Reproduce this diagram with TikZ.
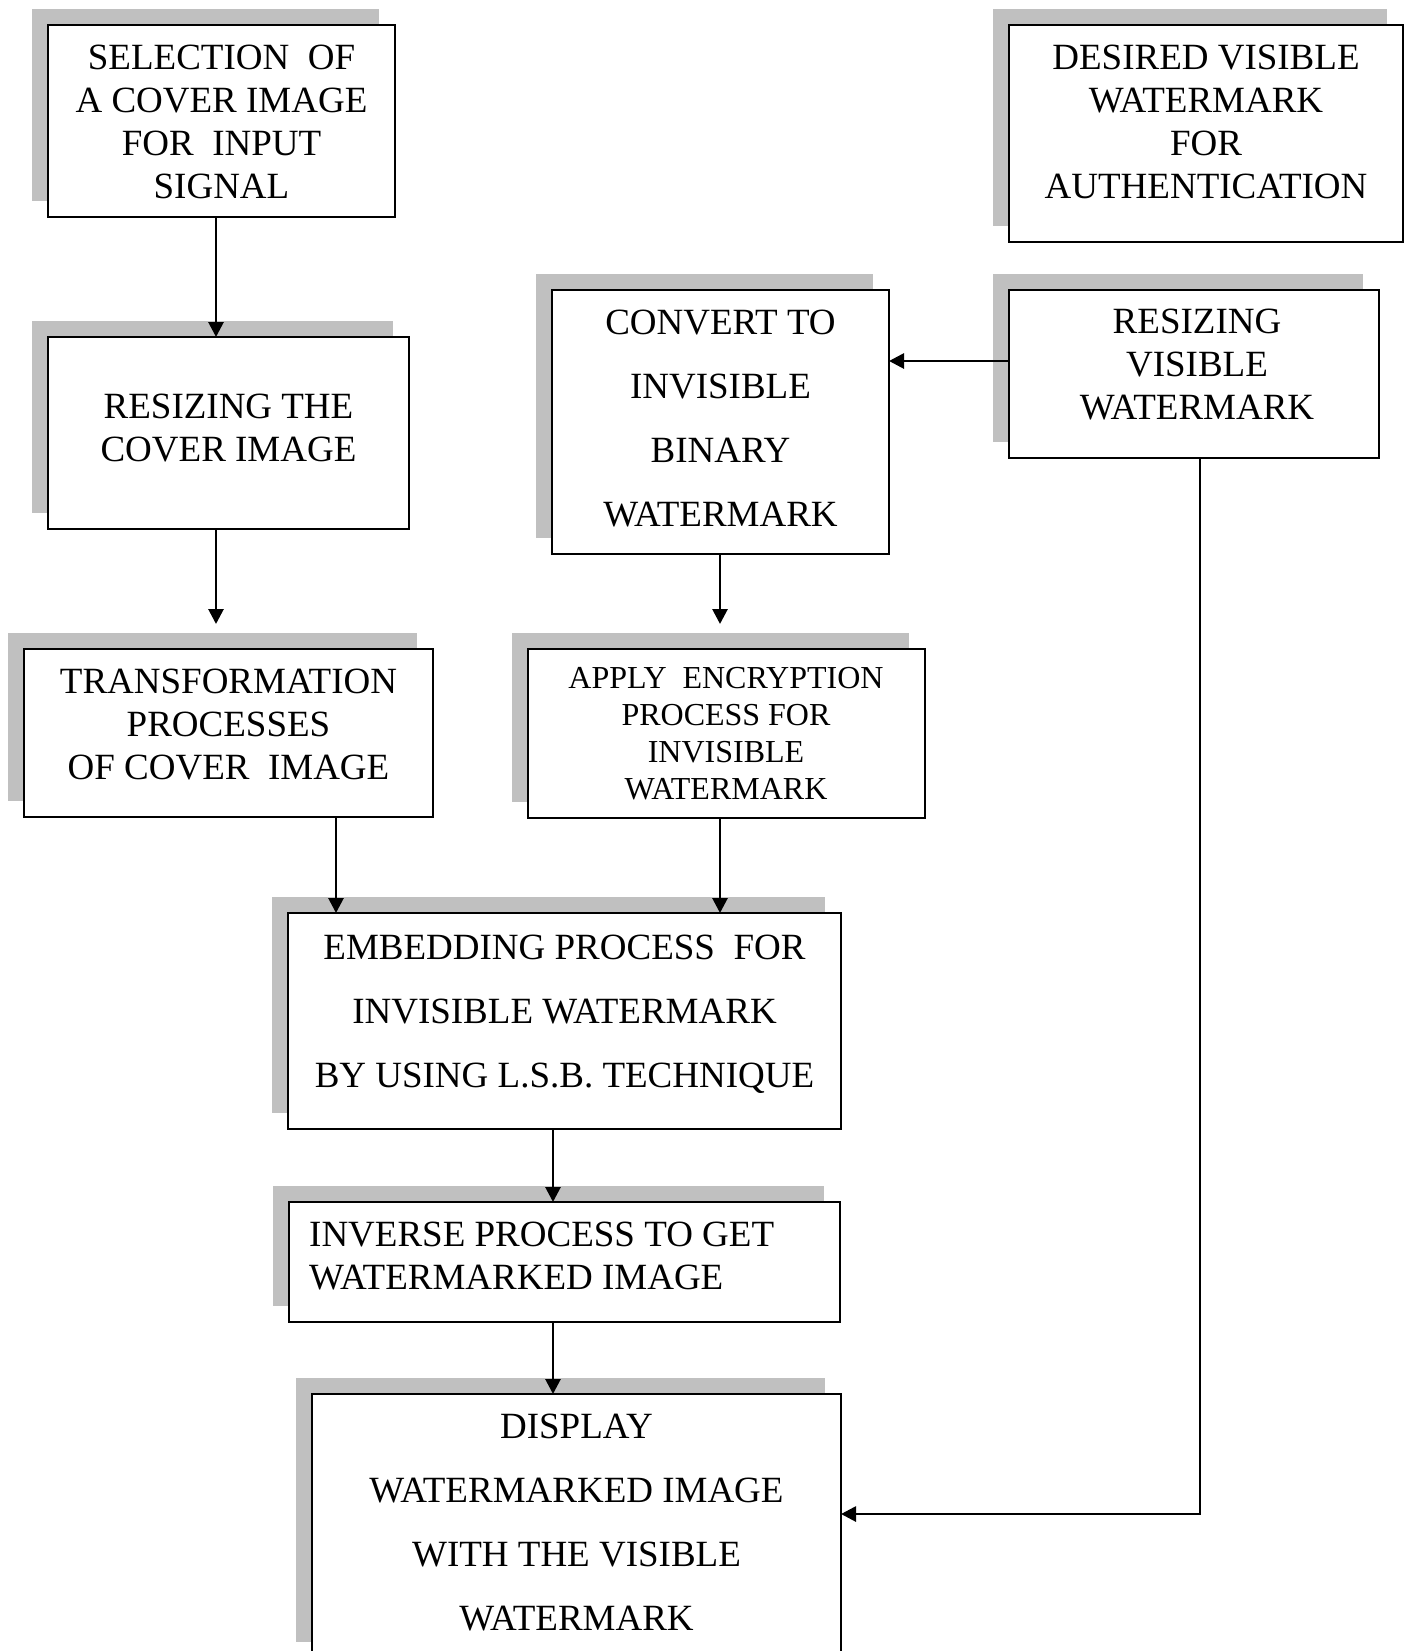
\documentclass[tikz,border=0pt]{standalone}
\usepackage{fontspec}
\setmainfont{Liberation Serif}
\usetikzlibrary{arrows.meta,shadows}
\definecolor{shadowgray}{RGB}{192,192,192}
\begin{document}
\begin{tikzpicture}[x=1pt,y=-1pt,
  box/.style={draw=black, line width=2.1pt, fill=white, inner sep=0pt, outer sep=0pt,
    general shadow={fill=shadowgray, shadow xshift=-16pt, shadow yshift=16pt}},
  arr/.style={line width=2.8pt, -{Triangle[length=15pt,width=15pt]}},
  txt/.style={font=\fontsize{37}{43}\selectfont, align=center, inner sep=0pt},
  txtwide/.style={font=\fontsize{37}{64}\selectfont, align=center, inner sep=0pt},
  txtsmall/.style={font=\fontsize{32}{37}\selectfont, align=center, inner sep=0pt}]
\useasboundingbox (0,0) rectangle (1413,1651);

% boxes
\node[box, minimum width=347pt, minimum height=192pt] (b1) at (221.5,121) {};
\node[box, minimum width=361pt, minimum height=192pt] (b2) at (228.5,433) {};
\node[box, minimum width=394pt, minimum height=217pt] (b3) at (1206,133.5) {};
\node[box, minimum width=337pt, minimum height=264pt] (b4) at (720.5,422) {};
\node[box, minimum width=370pt, minimum height=168pt] (b5) at (1194,374) {};
\node[box, minimum width=409pt, minimum height=168pt] (b6) at (228.5,733) {};
\node[box, minimum width=397pt, minimum height=169pt] (b7) at (726.5,733.5) {};
\node[box, minimum width=553pt, minimum height=216pt] (b8) at (564.5,1021) {};
\node[box, minimum width=551pt, minimum height=120pt] (b9) at (564.5,1262) {};
\node[box, minimum width=529pt, minimum height=264pt] (b10) at (576.5,1526) {};

% texts
\node[txt] (t1) at (221.5,122.25) {SELECTION\ \ OF\\A COVER IMAGE\\FOR\ \ INPUT\\SIGNAL};
\node[txt] (t2) at (228.5,428.5) {RESIZING THE\\COVER IMAGE};
\node[txt] (t3) at (1206,122) {DESIRED VISIBLE\\WATERMARK\\FOR\\AUTHENTICATION};
\node[txtwide] (t4) at (720.5,419) {CONVERT TO\\INVISIBLE\\BINARY\\WATERMARK};
\node[txt] (t5) at (1197,365) {RESIZING\\VISIBLE\\WATERMARK};
\node[txt] (t6) at (228.5,725) {TRANSFORMATION\\PROCESSES\\OF COVER\ \ IMAGE};
\node[txtsmall] (t7) at (726,734) {APPLY\ \ ENCRYPTION\\PROCESS FOR\\INVISIBLE\\WATERMARK};
\node[txtwide] (t8) at (564.5,1014.5) {EMBEDDING PROCESS\ \ FOR\\INVISIBLE WATERMARK\\BY USING L.S.B. TECHNIQUE};
\node[txt, align=left, anchor=west] (t9) at (309,1256) {INVERSE PROCESS TO GET\\WATERMARKED IMAGE};
\node[txtwide] (t10) at (576.5,1523) {DISPLAY\\WATERMARKED IMAGE\\WITH THE VISIBLE\\WATERMARK};

% helper coordinates
\coordinate (c1) at (216,0);
\coordinate (c2) at (336,0);
\coordinate (c3) at (720,0);
\coordinate (c4) at (553,0);
\coordinate (c5) at (1200,0);
\coordinate (r1) at (0,361);
\coordinate (r2) at (0,1514);
\coordinate (e6) at (216,624);
\coordinate (e7) at (720,624);

% connectors
\draw[arr] (b1.south -| c1) -- (b2.north -| c1);
\draw[arr] (b2.south -| c1) -- (e6);
\draw[arr] (b4.south -| c3) -- (e7);
\draw[arr] (b5.west |- r1) -- (b4.east |- r1);
\draw[arr] (b6.south -| c2) -- (b8.north -| c2);
\draw[arr] (b7.south -| c3) -- (b8.north -| c3);
\draw[arr] (b8.south -| c4) -- (b9.north -| c4);
\draw[arr] (b9.south -| c4) -- (b10.north -| c4);
\draw[arr] (b5.south -| c5) |- (b10.east |- r2);
\end{tikzpicture}
\end{document}
